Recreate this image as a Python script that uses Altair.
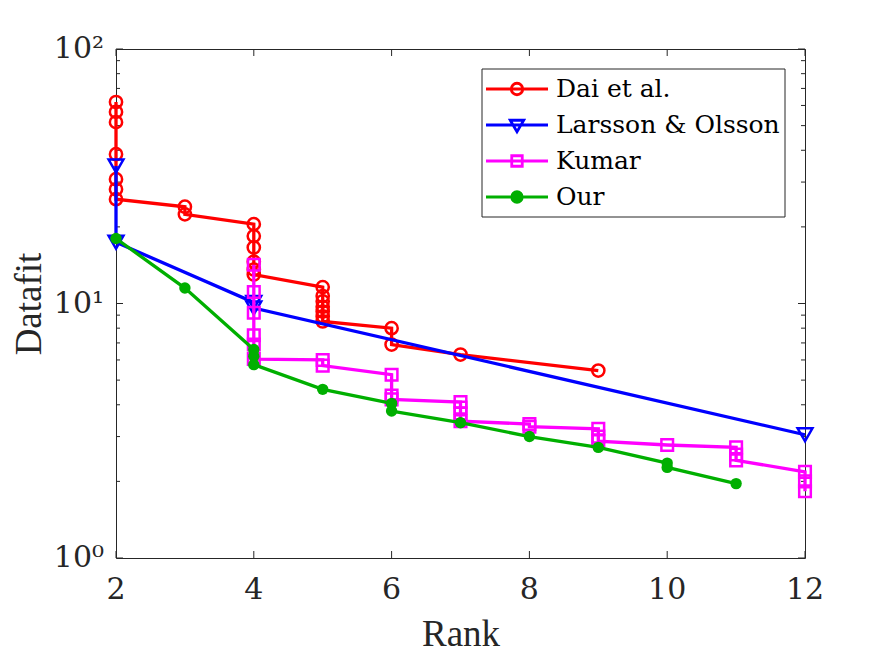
import altair as alt
import pandas as pd

FONT = "Liberation Serif"
LFONT = "DejaVu Serif"
AX = "#262626"
W, H = 689, 509

series_names = ["Dai et al.", "Larsson & Olsson", "Kumar", "Our"]
series_colors = ["#ff0000", "#0000ff", "#ff00ff", "#00af00"]
series_shapes = ["circle", "triangle-down", "square", "circle"]
series_filled = [False, False, False, True]
series_sizes = [150, 220, 135, 130]

dai_rank = [2, 2, 2, 2, 2, 2, 2, 3, 3, 4, 4, 4, 4, 4, 4, 5, 5, 5, 5, 5, 5, 5, 6, 6, 7, 9]
dai_fit = [61.9, 56.6, 51.6, 38.6, 30.8, 28.1, 25.7, 24.0, 22.4, 20.5, 18.4, 16.6, 14.6,
           13.6, 13.0, 11.6, 10.7, 10.2, 9.7, 9.3, 8.9, 8.5, 8.0, 6.9, 6.3, 5.45]

lar_rank = [2, 2, 4, 4, 12]
lar_fit = [34.7, 17.4, 10.1, 9.6, 3.05]

kum_rank = [4, 4, 4, 4, 4, 4, 5, 5, 6, 6, 6, 7, 7, 7, 7, 8, 8, 9, 9, 9, 10, 11, 11, 11, 12, 12, 12]
kum_fit = [14.2, 11.1, 9.2, 7.5, 6.9, 6.05, 6.0, 5.7, 5.25, 4.35, 4.2, 4.1, 3.9, 3.7, 3.45,
           3.36, 3.28, 3.22, 3.0, 2.88, 2.78, 2.72, 2.55, 2.42, 2.18, 2.0, 1.83]

our_rank = [2, 3, 4, 4, 4, 5, 6, 6, 7, 8, 9, 10, 10, 11]
our_fit = [18.0, 11.5, 6.6, 6.2, 5.75, 4.6, 4.05, 3.78, 3.4, 3.0, 2.72, 2.36, 2.27, 1.96]

x_ticks = [2, 4, 6, 8, 10, 12]
x_tick_labels = ["2", "4", "6", "8", "10", "12"]
y_major = [1, 10, 100]
y_tick_labels = ["10⁰", "10¹", "10²"]
y_minor = [2, 3, 4, 5, 6, 7, 8, 9, 20, 30, 40, 50, 60, 70, 80, 90]

# legend symbols: a line with the marker drawn over it (unit = 5 px)
LINE = "M-6.2,0L6.2,0"


def circ(r):
    return f"M{-r},0A{r},{r},0,1,1,{r},0A{r},{r},0,1,1,{-r},0"


legend_paths = [
    LINE + circ(1.15),
    LINE + "M-1.35,-0.95L1.35,-0.95L0,1.35Z",
    LINE + "M-1.05,-1.05L1.05,-1.05L1.05,1.05L-1.05,1.05Z",
    LINE + circ(1.05) + circ(0.6) + circ(0.2),
]

all_series = [
    (dai_rank, dai_fit),
    (lar_rank, lar_fit),
    (kum_rank, kum_fit),
    (our_rank, our_fit),
]

X = alt.X(
    "rank:Q",
    scale=alt.Scale(domain=[2, 12], nice=False, zero=False),
    axis=alt.Axis(
        values=x_ticks, ticks=False, tickSize=0, domain=False, grid=False,
        labels=False,
        title="Rank", titleFont=FONT, titleFontSize=37, titleFontWeight="normal",
        titleColor=AX, titleX=W / 2, titleY=87, titleBaseline="alphabetic",
        titleAlign="center",
    ),
)
Y = alt.Y(
    "fit:Q",
    scale=alt.Scale(type="log", domain=[1, 100], nice=False),
    axis=alt.Axis(
        values=y_major, ticks=False, tickSize=0, domain=False, grid=False,
        labels=False,
        title="Datafit", titleFont=FONT, titleFontSize=37, titleFontWeight="normal",
        titleColor=AX, titleX=-76, titleY=H / 2, titleAngle=270,
        titleBaseline="alphabetic", titleAlign="center",
    ),
)

layers = []

# inward ticks
xt = pd.DataFrame({"rank": x_ticks, "label": x_tick_labels})
ymaj = pd.DataFrame({"fit": y_major, "label": y_tick_labels})
ymin = pd.DataFrame({"fit": y_minor})
layers.append(alt.Chart(xt).mark_rule(color=AX, strokeWidth=1).encode(
    x=X, y=alt.value(0), y2=alt.value(7)))
layers.append(alt.Chart(xt).mark_rule(color=AX, strokeWidth=1).encode(
    x=X, y=alt.value(H), y2=alt.value(H - 7)))
layers.append(alt.Chart(ymaj).mark_rule(color=AX, strokeWidth=1).encode(
    y=Y, x=alt.value(0), x2=alt.value(7)))
layers.append(alt.Chart(ymaj).mark_rule(color=AX, strokeWidth=1).encode(
    y=Y, x=alt.value(W - 7), x2=alt.value(W)))
layers.append(alt.Chart(ymin).mark_rule(color=AX, strokeWidth=1).encode(
    y=Y, x=alt.value(0), x2=alt.value(4)))
layers.append(alt.Chart(ymin).mark_rule(color=AX, strokeWidth=1).encode(
    y=Y, x=alt.value(W - 4), x2=alt.value(W)))

# tick labels as text
layers.append(alt.Chart(xt).mark_text(
    font=LFONT, fontSize=30, fontWeight="normal", color=AX, align="center",
    baseline="alphabetic").encode(
    x=X, y=alt.value(H + 41), text="label:N"))
layers.append(alt.Chart(ymaj).mark_text(
    font=LFONT, fontSize=30, fontWeight="normal", color=AX, align="right",
    baseline="middle").encode(
    y=Y, x=alt.value(-12), text="label:N"))

for i, (ranks, fits) in enumerate(all_series):
    df = pd.DataFrame({
        "series": series_names[i],
        "rank": ranks,
        "fit": fits,
        "order": list(range(len(ranks))),
    })
    c = series_colors[i]
    layers.append(alt.Chart(df).mark_line(color=c, strokeWidth=3.3).encode(
        x=X, y=Y, order="order:Q"))
    layers.append(alt.Chart(df).mark_point(
        shape=series_shapes[i], filled=series_filled[i], color=c,
        size=series_sizes[i], strokeWidth=2.5, opacity=1).encode(x=X, y=Y))

# legend box
layers.append(alt.Chart(pd.DataFrame({"series": series_names[:1]})).mark_rect(
    fill="white", stroke=AX, strokeWidth=1).encode(
    x=alt.value(366), x2=alt.value(669), y=alt.value(20), y2=alt.value(168)))

leg = alt.Legend(
    title=None, orient="none", legendX=366, legendY=20, padding=6,
    strokeColor="transparent", fillColor="transparent", cornerRadius=0,
    labelFontSize=28, labelExpr="''", labelOffset=11,
    labelLimit=600, symbolSize=100, symbolStrokeWidth=2.8, symbolOffset=15,
    symbolOpacity=1, rowPadding=8,
)
legend_df = pd.DataFrame({"series": series_names})
layers.append(alt.Chart(legend_df).mark_point(
    filled=False, strokeWidth=2.8, size=100, opacity=1).encode(
    x=alt.value(-1000), y=alt.value(-1000),
    color=alt.Color("series:N", scale=alt.Scale(domain=series_names, range=series_colors),
                    legend=leg),
    shape=alt.Shape("series:N", scale=alt.Scale(domain=series_names, range=legend_paths),
                    legend=leg),
))

# legend label texts
for i, name in enumerate(series_names):
    layers.append(alt.Chart(pd.DataFrame({"series": [name]})).mark_text(
        font=LFONT, fontSize=25, fontWeight="normal", color="black", align="left",
        baseline="middle").encode(
        x=alt.value(440), y=alt.value(40 + 36 * i), text="series:N"))

chart = alt.layer(*layers).properties(
    width=W, height=H,
    autosize=alt.AutoSizeParams(type="none"),
    padding={"left": 108, "top": 41, "right": 70, "bottom": 96},
    background="white",
).configure_view(stroke=AX, strokeWidth=1)

chart.save("out.html", embed_options={"renderer": "svg", "actions": False})
